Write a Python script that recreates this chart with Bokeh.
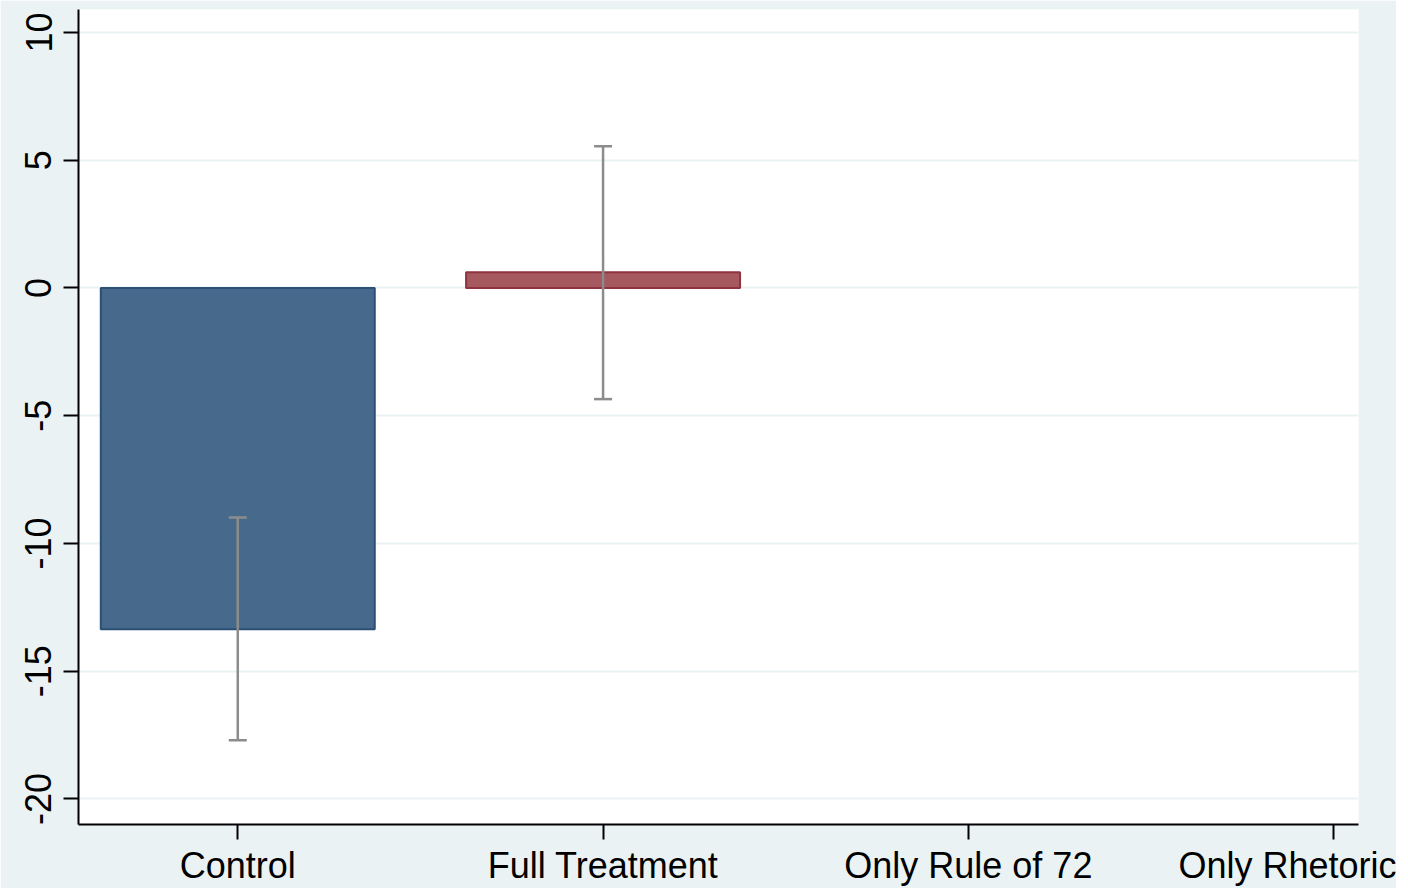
from bokeh.plotting import figure
from bokeh.models import ColumnDataSource, FixedTicker, Range1d, Whisker, TeeHead
from bokeh.embed import file_html
from bokeh.resources import INLINE

categories = ["Control", "Full Treatment", "Only Rule of 72", "Only Rhetoric"]
bar_pos = [0, 1]
bar_values = [-13.36, 0.62]
ci_lower = [-17.7, -4.35]
ci_upper = [-8.98, 5.55]
bar_fill = ["#476A8C", "#A5585D"]
bar_line = ["#2C4F75", "#8F3340"]
y_ticks = [-20, -15, -10, -5, 0, 5, 10]

src = ColumnDataSource(dict(x=bar_pos, top=bar_values, lower=ci_lower, upper=ci_upper,
                            fill=bar_fill, line=bar_line))

p = figure(width=1396, height=888, output_backend="svg", toolbar_location=None,
           x_range=Range1d(-0.436, 3.068), y_range=Range1d(-21.0, 10.9),
           min_border_left=78, min_border_right=38, min_border_top=9, min_border_bottom=62)
p.background_fill_color = "white"
p.border_fill_color = "#EAF2F3"
p.outline_line_color = None

p.vbar(x="x", top="top", bottom=0, width=0.75, source=src,
       fill_color="fill", line_color="line", line_width=2)

w = Whisker(base="x", upper="upper", lower="lower", source=src,
            line_color="#8C8C8C", line_width=2.5, level="overlay",
            upper_head=TeeHead(size=18, line_color="#8C8C8C", line_width=2.5),
            lower_head=TeeHead(size=18, line_color="#8C8C8C", line_width=2.5))
p.add_layout(w)

# axes
p.xaxis.ticker = FixedTicker(ticks=list(range(len(categories))))
p.xaxis.major_label_overrides = {i: c for i, c in enumerate(categories)}
p.yaxis.ticker = FixedTicker(ticks=y_ticks)
p.yaxis.major_label_overrides = {t: str(t) for t in y_ticks}
for ax in (p.xaxis[0], p.yaxis[0]):
    ax.axis_line_color = "black"
    ax.axis_line_width = 2
    ax.major_tick_line_color = "black"
    ax.major_tick_line_width = 2
    ax.major_tick_out = 15
    ax.major_tick_in = 0
    ax.minor_tick_line_color = None
    ax.major_label_text_font = "Liberation Sans"
    ax.major_label_text_color = "black"
p.xaxis.major_label_text_font_size = "36px"
p.xaxis.major_label_standoff = 5
p.yaxis.major_label_text_font_size = "36px"
p.yaxis.major_label_orientation = "vertical"
p.yaxis.major_label_standoff = 12

p.xgrid.grid_line_color = None
p.ygrid.grid_line_color = "#EAF2F3"
p.ygrid.grid_line_width = 2
p.ygrid.ticker = FixedTicker(ticks=y_ticks)

open("out.html", "w").write(file_html(p, INLINE))
